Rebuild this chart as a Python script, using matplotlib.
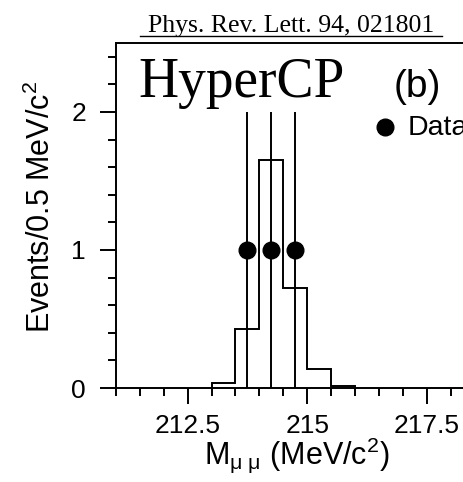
import numpy as np
import matplotlib
matplotlib.use('Agg')
import matplotlib.pyplot as plt
from matplotlib.ticker import MultipleLocator

plt.rcParams['font.family'] = ['Liberation Sans', 'DejaVu Sans']
plt.rcParams['mathtext.fontset'] = 'custom'
plt.rcParams['mathtext.rm'] = 'Liberation Sans'
plt.rcParams['mathtext.it'] = 'Liberation Sans:italic'

# MC signal shape (histogram)
bin_edges = [213.0, 213.5, 214.0, 214.5, 215.0, 215.5, 216.0]
mc_counts = [0.034, 0.43, 1.65, 0.725, 0.138, 0.012]

# data events
data_mass = [213.75, 214.25, 214.75]
data_counts = [1, 1, 1]
data_err = [1, 1, 1]

fig = plt.figure(figsize=(4.63, 4.82), dpi=100)
ax = fig.add_axes([0.2505, 0.195, 0.929, 0.716])

ax.stairs(mc_counts, bin_edges, color='black', lw=1.4, baseline=0)
ax.errorbar(data_mass, data_counts, yerr=data_err, fmt='o', color='black',
            ms=12, elinewidth=1.4, capsize=0)

ax.set_xlim(211, 220)
ax.set_ylim(0, 2.5)
ax.xaxis.set_major_locator(MultipleLocator(2.5))
ax.xaxis.set_minor_locator(MultipleLocator(0.5))
ax.yaxis.set_major_locator(MultipleLocator(1))
ax.yaxis.set_minor_locator(MultipleLocator(0.2))
ax.xaxis.set_major_formatter(matplotlib.ticker.FuncFormatter(lambda v, p: f'{v:g}'))
ax.tick_params(which='major', direction='out', length=11.5, width=1.4, labelsize=19, pad=7)
ax.tick_params(which='minor', direction='out', length=5.5, width=1.4)
ax.tick_params(axis='y', which='major', pad=10)
for s in ax.spines.values():
    s.set_linewidth(1.4)

# legend entry
ax.plot([216.63], [1.89], 'o', color='black', ms=12, clip_on=False)
ax.text(217.1, 1.833, 'Data', fontsize=20.5, va='baseline', ha='left')

ax.text(211.46, 2.11, 'HyperCP', fontsize=40, family='Liberation Serif', va='baseline')
ax.text(216.8, 2.11, '(b)', fontsize=28, va='baseline')

fig.text(0.628, 0.934, 'Phys. Rev. Lett. 94, 021801', fontsize=18.5,
         family='Liberation Serif', ha='center', va='baseline')
fig.add_artist(plt.Line2D([0.302, 0.955], [0.926, 0.926], color='black', lw=1.0))

fig.text(0.089, 0.570, 'Events/0.5 MeV/c$^2$', rotation=90, fontsize=22,
         ha='center', va='center')
fig.text(0.641, 0.037, r'M$_{\mathrm{μ\ μ}}$ (MeV/c$^2$)', fontsize=22,
         ha='center', va='baseline')

fig.savefig('out.png', dpi=100)
